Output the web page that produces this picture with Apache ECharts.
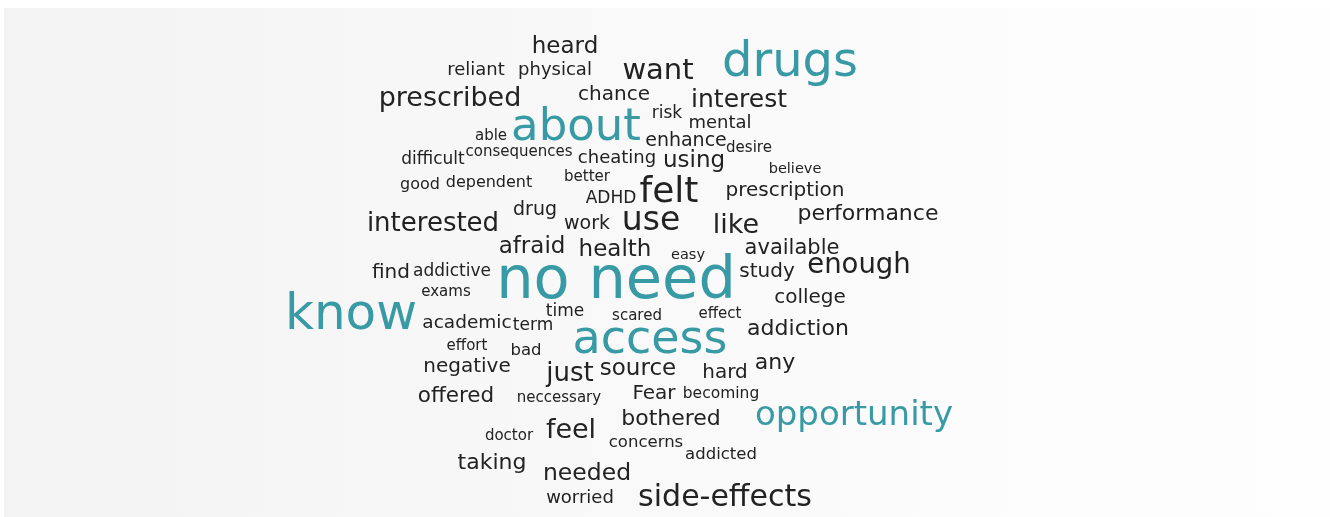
<!DOCTYPE html>
<html>
<head>
<meta charset="utf-8">
<script src="https://cdn.jsdelivr.net/npm/echarts@6/dist/echarts.min.js"></script>
<style>html,body{margin:0;padding:0;background:#fff}#c{width:1335px;height:517px}</style>
</head>
<body>
<div id="c"></div>
<script>
const words = ["heard","reliant","physical","want","drugs","prescribed","chance","interest","about","risk","mental","able","enhance","desire","difficult","consequences","cheating","using","believe","good","dependent","better","felt","ADHD","prescription","drug","interested","work","use","like","performance","afraid","health","easy","available","find","addictive","no need","study","enough","exams","know","college","time","scared","effect","academic","term","addiction","access","effort","bad","any","negative","just","source","hard","Fear","becoming","offered","neccessary","opportunity","bothered","doctor","feel","concerns","addicted","taking","needed","worried","side-effects"];
const weights = [23,18,18,29,48,27,20,25,45,17,18,15,19,15,17,15,18,23,14.5,16,16,15,36,17,20,19,26,19,33,27,22,23,23,14.5,21,20,17,59,20,27.5,15,50,20,17,15,15,18.5,17,22,46,15,16.5,22,20,26,23,20,20,15.5,21.5,15,34,22,15,27,16.5,16.5,22,23.5,18,30];
const wordX = [565,476,555,658,790,450,614,739,576,667,720,491,686,749,433,519,617,694,795,420,489,587,669,611,785,535,433,587,651,736,868,532,615,688,792,391,452,616,767,859,446,351,810,565,637,720,467,533,798,650,467,526,775,467,570,638,725,654,721,456,559,854,671,509,571,646,721,492,587,580,725];
const wordY = [46,69,69,69,61,97,94,98,125,113,122,135,140,147,159,151,157,160,168,184,182,176,191,198,190,209,222,223,219,224,213,246,249,254,248,272,271,279,271,264,291,313,297,311,315,313,322,325,328,338,345,350,362,366,372,368,372,393,393,395,397,414,418,435,429,442,454,462,473,497,496];
const highlighted = ["drugs","about","no need","know","access","opportunity"];

const chart = echarts.init(document.getElementById('c'), null, {renderer:'canvas'});
const data = words.map((w,i)=>({
  value:[wordX[i], wordY[i]],
  name:w,
  label:{
    fontSize: weights[i],
    offset:[0, Math.round(weights[i]*0.06)],
    color: highlighted.includes(w) ? '#379aa5' : '#222222'
  }
}));
chart.setOption({
  animation:false,
  grid:{left:4, right:4, top:8, bottom:0, show:true, borderWidth:0,
    backgroundColor:{type:'linear', x:0, y:0, x2:1, y2:0,
      colorStops:[{offset:0,color:'#f3f3f3'},{offset:0.75,color:'#fcfcfc'},{offset:1,color:'#fefefe'}]}},
  xAxis:{type:'value', min:4, max:1331, show:false},
  yAxis:{type:'value', min:8, max:517, inverse:true, show:false},
  series:[{
    type:'scatter',
    symbolSize:0,
    itemStyle:{color:'transparent', opacity:1},
    silent:true,
    label:{show:true, position:'inside', formatter:p=>p.name,
      fontFamily:'DejaVu Sans', fontWeight:'normal', verticalAlign:'middle', align:'center', opacity:1},
    emphasis:{disabled:true},
    data:data
  }]
});
</script>
</body>
</html>
